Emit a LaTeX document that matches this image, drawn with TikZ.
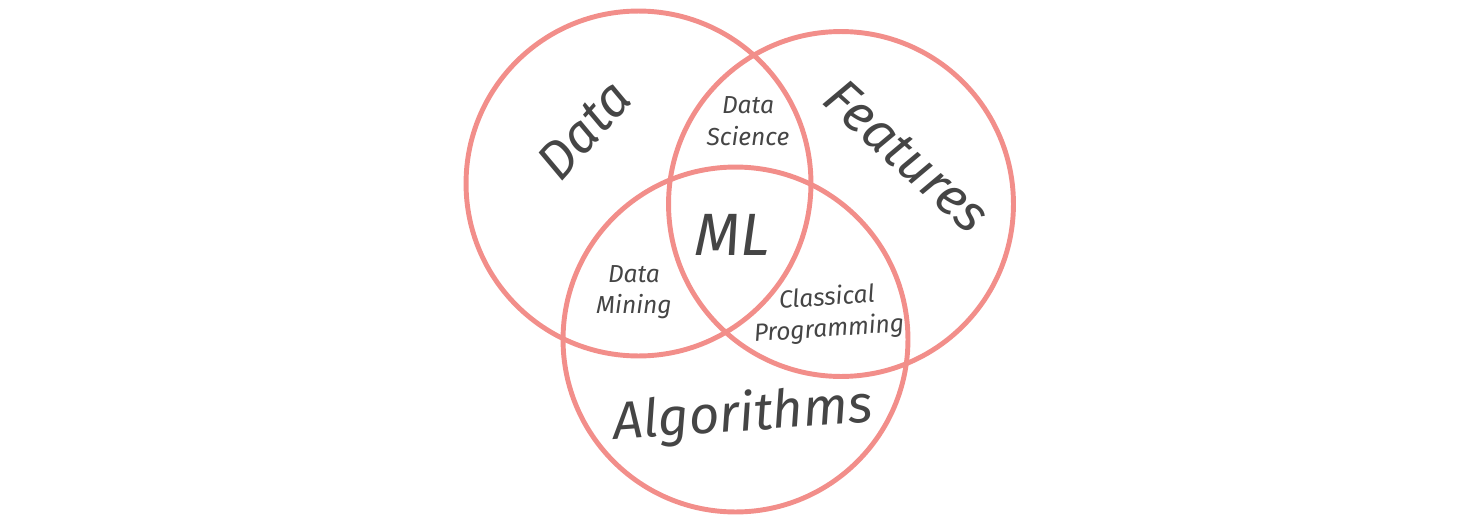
\documentclass[tikz,border=0pt]{standalone}
\usepackage{fontspec}
\setmainfont{Fira Sans}
\definecolor{vennline}{HTML}{F28E8A}
\definecolor{venntext}{HTML}{454545}
\tikzset{
	venn/.style={shape=circle, draw=vennline, line width=2.8pt, minimum size=6.9cm, inner sep=0pt},
	setlabel/.style={anchor=center, align=center, text=venntext, inner sep=1pt, font=\itshape\fontsize{30}{34}\selectfont},
	midlabel/.style={anchor=center, align=center, text=venntext, inner sep=1pt, font=\itshape\fontsize{14}{18}\selectfont},
}
\begin{document}
\begin{tikzpicture}[x=0.02cm, y=-0.02cm]
	\useasboundingbox (0,0) rectangle (1471,521);
	% Paths, nodes and wires:
	\node[venn] (data) at (638.5, 183.5){};
	\node[venn] (features) at (841, 204){};
	\node[venn] (algorithms) at (735.5, 339.5){};
	% Set names:
	\node[setlabel, rotate=48] (datatxt) at (584, 130){Data};
	\node[setlabel, rotate=-42] (featurestxt) at (907, 156){Features};
	\node[setlabel, rotate=4] (algorithmstxt) at (743, 416){Algorithms};
	% Overlaps:
	\node[midlabel] (datasci) at (748, 121){Data\\Science};
	\node[midlabel] (datamin) at (634, 292){Data\\Mining};
	\node[midlabel, rotate=4] (classprog) at (828, 314){Classical\\Programming};
	\node[setlabel, font=\itshape\fontsize{34}{38}\selectfont] (ml) at (732, 235){ML};
\end{tikzpicture}
\end{document}
